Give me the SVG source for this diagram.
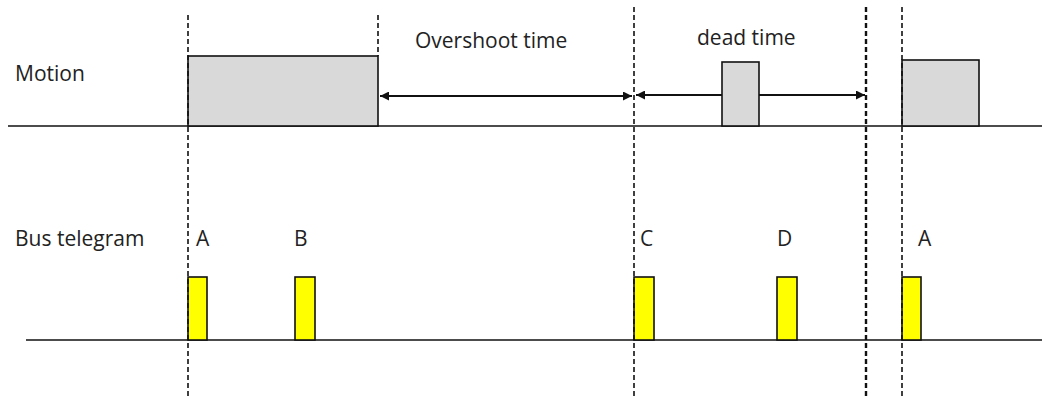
<svg xmlns="http://www.w3.org/2000/svg" width="1042" height="396" viewBox="0 0 1042 396">
<style>
text{font-family:"Open Sans","DejaVu Sans",sans-serif;fill:#222;}
.lbl{font-size:21px;}
.big{font-size:21px;}
.base{stroke:#111;stroke-width:1.6;fill:none;}
.dash{stroke:#111;stroke-width:1.6;stroke-dasharray:5 3;fill:none;}
.dashb{stroke:#111;stroke-width:2.4;stroke-dasharray:5 3;fill:none;}
.motion{fill:#d9d9d9;stroke:#111;stroke-width:1.6;}
.tel{fill:#ffff00;stroke:#111;stroke-width:1.6;}
.arr{stroke:#111;stroke-width:1.8;fill:none;}
</style>
<defs>
<marker id="ah" viewBox="0 0 10 10" refX="10" refY="5" markerWidth="11" markerHeight="9" markerUnits="userSpaceOnUse" orient="auto-start-reverse">
<path d="M0,0 L10,5 L0,10 z" fill="#111"/>
</marker>
</defs>
<g id="axes">
<line class="base" x1="8" y1="126" x2="1042" y2="126"/>
<line class="base" x1="26" y1="340" x2="1042" y2="340"/>
</g>
<g id="labels">
<text class="lbl" x="15" y="81">Motion</text>
<text class="lbl" x="15" y="246">Bus telegram</text>
<text class="big" x="415" y="48">Overshoot time</text>
<text class="big" x="697" y="45">dead time</text>
</g>
<g id="motion-1"><rect class="motion" x="188" y="56" width="190" height="70"/></g>
<g id="motion-2"><rect class="motion" x="722" y="62" width="37" height="64"/></g>
<g id="motion-3"><rect class="motion" x="902" y="60" width="77" height="66"/></g>
<g id="telegram-A1"><rect class="tel" x="188" y="277" width="19" height="63"/><text class="lbl" x="196" y="246">A</text></g>
<g id="telegram-B"><rect class="tel" x="295" y="277" width="20" height="63"/><text class="lbl" x="294" y="246">B</text></g>
<g id="telegram-C"><rect class="tel" x="634" y="277" width="20" height="63"/><text class="lbl" x="640" y="246">C</text></g>
<g id="telegram-D"><rect class="tel" x="777" y="277" width="20" height="63"/><text class="lbl" x="777" y="246">D</text></g>
<g id="telegram-A2"><rect class="tel" x="902" y="277" width="19" height="63"/><text class="lbl" x="918" y="246">A</text></g>
<g id="connectors">
<line class="dash" x1="188" y1="15" x2="188" y2="396"/>
<line class="dash" x1="378" y1="15" x2="378" y2="56"/>
<line class="dash" x1="634" y1="7" x2="634" y2="396"/>
<line class="dashb" x1="866" y1="7" x2="866" y2="396"/>
<line class="dash" x1="902" y1="7" x2="902" y2="396" stroke="#333"/>
<line class="arr" x1="380" y1="96" x2="632" y2="96" marker-start="url(#ah)" marker-end="url(#ah)"/>
<line class="arr" x1="636" y1="95" x2="722" y2="95" marker-start="url(#ah)"/>
<line class="arr" x1="759" y1="95" x2="865" y2="95" marker-end="url(#ah)"/>
</g>
</svg>
